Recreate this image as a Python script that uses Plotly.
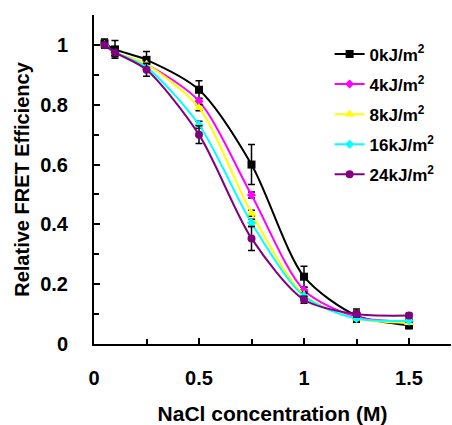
import plotly.graph_objects as go

nacl = [0.05, 0.1, 0.25, 0.5, 0.75, 1.0, 1.25, 1.5]
labels = ["0kJ/m<sup>2</sup>", "4kJ/m<sup>2</sup>", "8kJ/m<sup>2</sup>",
          "16kJ/m<sup>2</sup>", "24kJ/m<sup>2</sup>"]
fret_0 = [1.005, 0.985, 0.95, 0.85, 0.60, 0.225, 0.095, 0.063]
fret_4 = [1.0, 0.975, 0.935, 0.812, 0.498, 0.18, 0.09, 0.075]
fret_8 = [1.0, 0.975, 0.935, 0.79, 0.437, 0.165, 0.085, 0.071]
fret_16 = [1.0, 0.975, 0.925, 0.733, 0.405, 0.16, 0.085, 0.078]
fret_24 = [1.0, 0.975, 0.917, 0.70, 0.353, 0.148, 0.10, 0.095]
err_0 = [0.015, 0.03, 0.028, 0.03, 0.067, 0.035, 0.022, 0.012]
err_4 = [0.01, 0.01, 0.01, 0.01, 0.01, 0.01, 0.01, 0.005]
err_8 = [0.01, 0.01, 0.01, 0.01, 0.01, 0.01, 0.01, 0.005]
err_16 = [0.01, 0.01, 0.01, 0.012, 0.012, 0.01, 0.01, 0.005]
err_24 = [0.01, 0.015, 0.022, 0.03, 0.04, 0.012, 0.01, 0.008]

series = [fret_0, fret_4, fret_8, fret_16, fret_24]
errors = [err_0, err_4, err_8, err_16, err_24]
colors = ["#000000", "#FF00FF", "#FFFF00", "#00FFFF", "#800080"]
symbols = ["square", "diamond", "triangle-up", "diamond", "circle"]
sizes = [8, 7, 9, 7, 8]

FONT = "Liberation Sans, Arial, sans-serif"

fig = go.Figure()
for i in range(5):
    fig.add_trace(go.Scatter(
        x=nacl, y=series[i], name=labels[i], mode="lines+markers",
        line=dict(color=colors[i], width=2, shape="spline", smoothing=0.8),
        marker=dict(color=colors[i], symbol=symbols[i], size=sizes[i]),
        error_y=dict(type="data", array=errors[i], color="black",
                     thickness=1.5, width=3.5),
        legendgroup=str(i),
    ))

axis_common = dict(
    showgrid=False, zeroline=False, showline=True, linecolor="black",
    linewidth=2, ticks="inside", ticklen=6, tickwidth=2, tickcolor="black",
    tickfont=dict(family=FONT, size=20, color="black", weight="bold"),
    mirror=False, automargin=False,
)

fig.update_layout(
    width=452, height=425,
    margin=dict(l=94, r=1, t=15, b=81),
    plot_bgcolor="white", paper_bgcolor="white",
    showlegend=True,
    legend=dict(x=0.66, y=0.935, xanchor="left", yanchor="top",
                font=dict(family=FONT, size=17, color="black", weight="bold"),
                tracegroupgap=5, bgcolor="rgba(0,0,0,0)"),
    xaxis=dict(range=[0, 1.7], dtick=0.5, tick0=0,
               minor=dict(dtick=0.25, ticks="inside", ticklen=5, tickwidth=2,
                          tickcolor="black"),
               ticklabelstandoff=15,
               title=dict(text="NaCl concentration (M)", standoff=18,
                          font=dict(family=FONT, size=21, color="black",
                                    weight="bold")),
               **axis_common),
    yaxis=dict(range=[0, 1.1], dtick=0.2, tick0=0,
               minor=dict(dtick=0.1, ticks="inside", ticklen=5, tickwidth=2,
                          tickcolor="black"),
               ticklabelstandoff=20,
               title=dict(text="Relative FRET Efficiency", standoff=5,
                          font=dict(family=FONT, size=20, color="black",
                                    weight="bold")),
               **axis_common),
)

fig.write_html("out.html", config={"displayModeBar": False},
               post_script="document.body.style.margin='0';"
                           "document.body.style.overflow='hidden';")
